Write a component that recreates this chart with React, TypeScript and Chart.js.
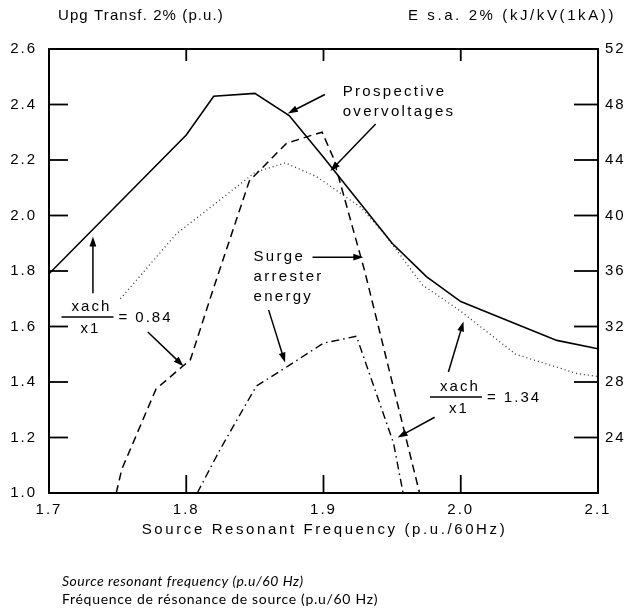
import { useEffect, useRef } from "react";
import { Chart, registerables } from "chart.js";

Chart.register(...registerables);

// Axis ranges and tick steps
const freqMin = 1.7;
const freqMax = 2.1;
const freqStep = 0.1;
const upgMin = 1.0;
const upgMax = 2.6;
const upgStep = 0.2;
const energyMin = 20;
const energyMax = 52;
const energyStep = 4;

// xach/x1 = 0.84 : prospective transformer overvoltage (p.u.)
const upg084Freq = [1.70, 1.80, 1.82, 1.85, 1.875, 1.90, 1.95, 1.975, 2.00, 2.03, 2.07, 2.10];
const upg084 = [1.79, 2.29, 2.43, 2.44, 2.36, 2.21, 1.90, 1.78, 1.69, 1.63, 1.55, 1.52];

// xach/x1 = 1.34 : prospective transformer overvoltage (p.u.)
const upg134Freq = [1.752, 1.793, 1.81, 1.85, 1.872, 1.895, 1.927, 1.945, 1.972, 2.00, 2.04, 2.085, 2.10];
const upg134 = [1.70, 1.935, 2.00, 2.155, 2.19, 2.14, 2.03, 1.93, 1.75, 1.655, 1.50, 1.43, 1.42];

// xach/x1 = 0.84 : surge arrester energy (kJ/kV)
const energy084Freq = [1.749, 1.753, 1.778, 1.797, 1.803, 1.82, 1.846, 1.873, 1.892, 1.899, 1.907, 1.93, 1.97];
const energy084 = [20.0, 21.7, 27.5, 29.1, 29.6, 34.8, 42.5, 45.2, 45.8, 46.0, 44.2, 36.0, 20.0];

// xach/x1 = 1.34 : surge arrester energy (kJ/kV)
const energy134Freq = [1.808, 1.825, 1.851, 1.875, 1.90, 1.924, 1.951, 1.958];
const energy134 = [20.0, 23.2, 27.7, 29.2, 30.8, 31.3, 23.6, 20.0];

// Callout labels (frequency, p.u.)
const noteText = ["Prospective", "overvoltages", "Surge", "arrester", "energy"];
const noteFreq = [1.914, 1.914, 1.849, 1.849, 1.849];
const noteUpg = [2.445, 2.373, 1.850, 1.778, 1.706];

// Callout arrows: tail -> head (frequency, p.u.)
const arrowTailFreq = [1.901, 1.938, 1.892, 1.860, 1.732, 1.772, 1.991, 1.981];
const arrowTailUpg = [2.436, 2.330, 1.850, 1.660, 1.720, 1.580, 1.436, 1.273];
const arrowHeadFreq = [1.874, 1.905, 1.929, 1.872, 1.732, 1.798, 2.002, 1.954];
const arrowHeadUpg = [2.368, 2.160, 1.850, 1.470, 1.924, 1.457, 1.618, 1.200];

// Reactance ratio labels: fraction bar centre (frequency, p.u.)
const ratioValue = ["0.84", "1.34"];
const ratioFreq = [1.728, 1.9965];
const ratioUpg = [1.634, 1.346];

const leftTitle = "Upg Transf. 2% (p.u.)";
const rightTitle = "E s.a. 2% (kJ/kV(1kA))";
const xTitle = "Source Resonant Frequency (p.u./60Hz)";
const captionEn = "Source resonant frequency (p.u/60 Hz)";
const captionFr = "Fréquence de résonance de source (p.u/60 Hz)";

const FONT = "'Liberation Sans', Arial, Helvetica, sans-serif";
const CAPTION_FONT = "Lato, 'Open Sans', sans-serif";

const toPoints = (xs: number[], ys: number[]) => xs.map((x, i) => ({ x, y: ys[i] }));

function drawArrow(ctx: CanvasRenderingContext2D, x0: number, y0: number, x1: number, y1: number) {
  const ang = Math.atan2(y1 - y0, x1 - x0);
  const len = 10;
  const half = 3.4;
  ctx.beginPath();
  ctx.moveTo(x0, y0);
  ctx.lineTo(x1 - (len - 2) * Math.cos(ang), y1 - (len - 2) * Math.sin(ang));
  ctx.stroke();
  ctx.beginPath();
  ctx.moveTo(x1, y1);
  ctx.lineTo(x1 - len * Math.cos(ang) + half * Math.sin(ang), y1 - len * Math.sin(ang) - half * Math.cos(ang));
  ctx.lineTo(x1 - len * Math.cos(ang) - half * Math.sin(ang), y1 - len * Math.sin(ang) + half * Math.cos(ang));
  ctx.closePath();
  ctx.fill();
}

// wide typewriter-like spacing for the axis numbers
const spacingPlugin = {
  id: "letterSpacing",
  beforeDraw(chart: any) {
    (chart.ctx as any).letterSpacing = "2px";
  },
};

const framePlugin = {
  id: "frameTicksNotes",
  afterDatasetsDraw(chart: any) {
    const { ctx, chartArea: a, scales } = chart;
    const xs = scales.x;
    const ys = scales.y;
    const y2 = scales.y2;
    ctx.save();
    ctx.strokeStyle = "#000";
    ctx.fillStyle = "#000";
    ctx.lineCap = "butt";

    // plot frame
    ctx.lineWidth = 2;
    ctx.strokeRect(a.left, a.top, a.right - a.left, a.bottom - a.top);

    // inward tick marks
    ctx.lineWidth = 1.8;
    const seg = (x0: number, y0: number, x1: number, y1: number) => {
      ctx.beginPath();
      ctx.moveTo(x0, y0);
      ctx.lineTo(x1, y1);
      ctx.stroke();
    };
    ys.ticks.forEach((t: any) => {
      if (t.value <= upgMin + 1e-6 || t.value >= upgMax - 1e-6) return;
      const p = ys.getPixelForValue(t.value);
      seg(a.left, p, a.left + 19, p);
    });
    y2.ticks.forEach((t: any) => {
      if (t.value <= energyMin || t.value >= energyMax) return;
      const p = y2.getPixelForValue(t.value);
      seg(a.right, p, a.right - 24, p);
    });
    xs.ticks.forEach((t: any) => {
      if (t.value <= freqMin + 1e-6 || t.value >= freqMax - 1e-6) return;
      const p = xs.getPixelForValue(t.value);
      seg(p, a.top, p, a.top + 12);
      seg(p, a.bottom, p, a.bottom - 18);
    });

    // callout arrows
    ctx.lineWidth = 1.5;
    arrowTailFreq.forEach((f, i) => {
      drawArrow(
        ctx,
        xs.getPixelForValue(f),
        ys.getPixelForValue(arrowTailUpg[i]),
        xs.getPixelForValue(arrowHeadFreq[i]),
        ys.getPixelForValue(arrowHeadUpg[i])
      );
    });

    // callout text
    ctx.letterSpacing = "2.3px";
    ctx.font = `15px ${FONT}`;
    ctx.textBaseline = "middle";
    ctx.textAlign = "left";
    noteText.forEach((s, i) => {
      ctx.fillText(s, xs.getPixelForValue(noteFreq[i]), ys.getPixelForValue(noteUpg[i]));
    });

    // xach / x1 = ratio
    ctx.letterSpacing = "2px";
    ratioValue.forEach((v, i) => {
      const cx = xs.getPixelForValue(ratioFreq[i]);
      const cy = ys.getPixelForValue(ratioUpg[i]);
      ctx.lineWidth = 1.5;
      seg(cx - 26, cy, cx + 26, cy);
      ctx.textAlign = "center";
      ctx.fillText("xach", cx + 4, cy - 10);
      ctx.fillText("x1", cx + 3, cy + 12);
      ctx.textAlign = "left";
      ctx.fillText(`= ${v}`, cx + 31, cy + 1);
    });

    // column titles above the plot
    ctx.textBaseline = "alphabetic";
    ctx.textAlign = "left";
    ctx.letterSpacing = "1.1px";
    ctx.fillText(leftTitle, 58, a.top - 29);
    ctx.textAlign = "right";
    ctx.letterSpacing = "2.6px";
    ctx.fillText(rightTitle, 616, a.top - 29);

    // axis title
    ctx.textAlign = "center";
    ctx.letterSpacing = "2.6px";
    ctx.fillText(xTitle, (a.left + a.right) / 2 + 1, a.bottom + 41);

    // bilingual caption
    ctx.textAlign = "left";
    ctx.letterSpacing = "0.5px";
    ctx.font = `italic 14px ${CAPTION_FONT}`;
    ctx.fillText(captionEn, 62, a.bottom + 93);
    ctx.letterSpacing = "0.7px";
    ctx.font = `14px ${CAPTION_FONT}`;
    ctx.fillText(captionFr, 62, a.bottom + 111);

    ctx.restore();
  },
};

export default function App() {
  const ref = useRef<HTMLCanvasElement | null>(null);

  useEffect(() => {
    document.body.style.margin = "0";
    const canvas = ref.current;
    if (!canvas) return;
    const ink = "#000";
    const chart = new Chart(canvas, {
      type: "line",
      data: {
        datasets: [
          {
            label: "Upg xach/x1=0.84",
            data: toPoints(upg084Freq, upg084),
            borderColor: ink,
            borderWidth: 1.6,
            yAxisID: "y",
          },
          {
            label: "Upg xach/x1=1.34",
            data: toPoints(upg134Freq, upg134),
            borderColor: "#333",
            borderWidth: 1.3,
            borderDash: [1, 3],
            yAxisID: "y",
          },
          {
            label: "E s.a. xach/x1=0.84",
            data: toPoints(energy084Freq, energy084),
            borderColor: ink,
            borderWidth: 1.5,
            borderDash: [8, 5],
            yAxisID: "y2",
          },
          {
            label: "E s.a. xach/x1=1.34",
            data: toPoints(energy134Freq, energy134),
            borderColor: ink,
            borderWidth: 1.4,
            borderDash: [8, 4, 1.5, 4],
            yAxisID: "y2",
          },
        ],
      },
      options: {
        animation: false,
        responsive: false,
        devicePixelRatio: 1,
        events: [],
        layout: { padding: { top: 49, left: 0, right: 0, bottom: 0 } },
        elements: {
          point: { radius: 0 },
          line: { tension: 0, fill: false },
        },
        plugins: {
          legend: { display: false },
          tooltip: { enabled: false },
          title: { display: false },
        },
        scales: {
          x: {
            type: "linear",
            position: "bottom",
            min: freqMin,
            max: freqMax,
            afterFit: (s: any) => {
              s.height = 614 - 493;
            },
            ticks: {
              stepSize: freqStep,
              color: ink,
              padding: 8,
              maxRotation: 0,
              font: { family: FONT, size: 15 },
              callback: (v: any) => Number(v).toFixed(1),
            },
            grid: { display: false, drawTicks: false },
            border: { display: false },
          },
          y: {
            type: "linear",
            position: "left",
            min: upgMin,
            max: upgMax,
            afterFit: (s: any) => {
              s.width = 49;
            },
            ticks: {
              stepSize: upgStep,
              color: ink,
              padding: 12,
              font: { family: FONT, size: 15 },
              callback: (v: any) => Number(v).toFixed(1),
            },
            grid: { display: false, drawTicks: false },
            border: { display: false },
          },
          y2: {
            type: "linear",
            position: "right",
            min: energyMin,
            max: energyMax,
            afterFit: (s: any) => {
              s.width = 28;
            },
            ticks: {
              stepSize: energyStep,
              color: ink,
              padding: 7,
              font: { family: FONT, size: 15 },
              callback: (v: any) => (Number(v) === energyMin ? "" : String(v)),
            },
            grid: { display: false, drawTicks: false },
            border: { display: false },
          },
        },
      },
      plugins: [spacingPlugin, framePlugin],
    });
    return () => chart.destroy();
  }, []);

  return (
    <div style={{ width: 626, height: 614, background: "#fff" }}>
      <canvas ref={ref} width={626} height={614} style={{ display: "block", width: 626, height: 614 }} />
    </div>
  );
}
